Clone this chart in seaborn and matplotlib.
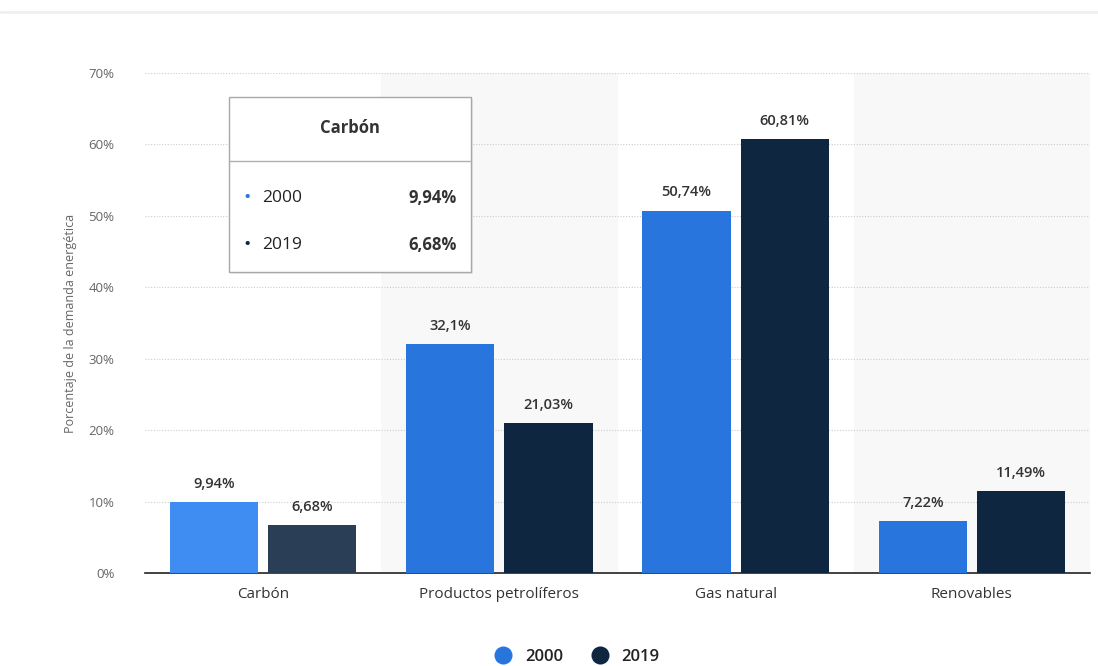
import matplotlib
matplotlib.use("Agg")
import matplotlib.pyplot as plt
from matplotlib.lines import Line2D
from matplotlib.patches import Rectangle
import seaborn as sns
import pandas as pd

categories = ["Carbón", "Productos petrolíferos", "Gas natural", "Renovables"]
years = ["2000", "2019"]
values_2000 = [9.94, 32.1, 50.74, 7.22]
values_2019 = [6.68, 21.03, 60.81, 11.49]
y_ticks = [0, 10, 20, 30, 40, 50, 60, 70]
y_label = "Porcentaje de la demanda energética"

colors = {"2000": "#2876dd", "2019": "#0f2640"}
hover_colors = {"2000": "#3f8cf2", "2019": "#2a3e55"}
hover_category = "Carbón"

df = pd.DataFrame({
    "categoria": categories * 2,
    "anio": [years[0]] * len(categories) + [years[1]] * len(categories),
    "valor": values_2000 + values_2019,
})

sns.set_theme(style="white")
plt.rcParams["font.family"] = ["Open Sans", "DejaVu Sans"]

W, H = 1098, 666
fig = plt.figure(figsize=(W / 100, H / 100), dpi=100)
ax = fig.add_axes([145 / W, 1 - 573 / H, (1090 - 145) / W, (573 - 73) / H])


def fx(px):
    return px / W


def fy(py):
    return 1 - py / H


# alternating background bands
for i in range(len(categories)):
    if i % 2 == 1:
        ax.axvspan(i - 0.5, i + 0.5, ymin=0, ymax=1, color="#f8f8f8", zorder=0, lw=0)

sns.barplot(data=df, x="categoria", y="valor", hue="anio", order=categories,
            hue_order=years, palette=colors, width=0.83, gap=0.1,
            saturation=1, legend=False, ax=ax, zorder=3)

# highlight hovered category and annotate bars
for container, year in zip(ax.containers, years):
    for patch, cat in zip(container.patches, categories):
        patch.set_edgecolor("none")
        if cat == hover_category:
            patch.set_facecolor(hover_colors[year])
    labels = [f"{v:g}".replace(".", ",") + "%" for v in container.datavalues]
    ax.bar_label(container, labels=labels, padding=8, fontsize=10.5,
                 fontweight="semibold", color="#333333")

ax.set_xlim(-0.5, len(categories) - 0.5)
ax.set_ylim(0, 70)
ax.set_yticks(y_ticks)
ax.set_yticklabels([f"{t}%" for t in y_ticks], fontsize=9.5, color="#666666")
ax.yaxis.grid(True, linestyle=(0, (1, 1.5)), color="#cccccc", lw=0.8)
ax.set_axisbelow(True)
ax.tick_params(axis="y", length=0, pad=22)
ax.tick_params(axis="x", length=0, pad=10, labelsize=11, labelcolor="#333333")
ax.set_xlabel("")
ax.set_ylabel(y_label, fontsize=9, color="#666666", labelpad=8)
for s in ["top", "right", "left"]:
    ax.spines[s].set_visible(False)
ax.spines["bottom"].set_color("#222222")
ax.spines["bottom"].set_linewidth(1.2)
ax.patch.set_alpha(0)

# card top edge
fig.add_artist(Line2D([fx(0), fx(W)], [fy(12), fy(12)], color="#f0f0f0", lw=2))

# tooltip
tx0, tx1, ty0, ty1 = 229, 471, 97, 272
fig.add_artist(Rectangle((fx(tx0 + 2), fy(ty1 + 2)), fx(tx1 - tx0), fy(ty0) - fy(ty1),
                         transform=fig.transFigure, facecolor="#00000010", edgecolor="none", zorder=9))
fig.add_artist(Rectangle((fx(tx0), fy(ty1)), fx(tx1 - tx0), fy(ty0) - fy(ty1),
                         transform=fig.transFigure, facecolor="white", edgecolor="#a8a8a8",
                         lw=1, zorder=10))
fig.add_artist(Line2D([fx(tx0), fx(tx1)], [fy(161), fy(161)], color="#b0b0b0", lw=1, zorder=11))
fig.text(fx((tx0 + tx1) / 2), fy(128), hover_category, ha="center", va="center",
         fontsize=12, fontweight="bold", color="#333333", zorder=12)
hover_idx = categories.index(hover_category)
for yy, year, vals in [(198, "2000", values_2000), (245, "2019", values_2019)]:
    fig.text(fx(243), fy(yy), "•", ha="left", va="center", fontsize=14,
             color=colors[year], zorder=12)
    fig.text(fx(262), fy(yy), year, ha="left", va="center", fontsize=12.5,
             color="#222222", zorder=12)
    fig.text(fx(457), fy(yy), f"{vals[hover_idx]:g}".replace(".", ",") + "%",
             ha="right", va="center", fontsize=12, fontweight="bold", color="#333333", zorder=12)

# legend
handles = [Line2D([], [], marker="o", linestyle="none", markersize=13,
                  markerfacecolor=colors[y], markeredgecolor="none", label=y) for y in years]
leg = fig.legend(handles=handles, loc="center", bbox_to_anchor=(fx(573), fy(657)),
                 ncol=2, frameon=False, fontsize=12, handletextpad=0.3, columnspacing=1.2)
for t in leg.get_texts():
    t.set_fontweight("semibold")
    t.set_color("#222222")

fig.savefig("out.png", dpi=100, facecolor="white")
